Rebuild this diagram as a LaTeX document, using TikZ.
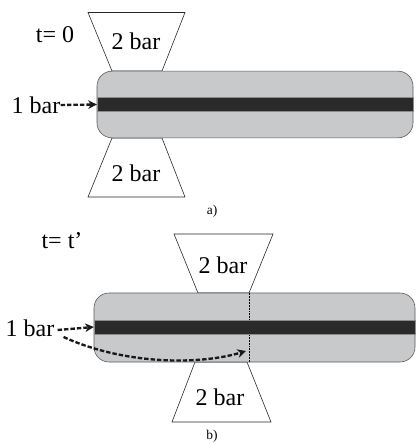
\documentclass[tikz,border=0pt]{standalone}
\usepackage{fontspec}
\setmainfont{Liberation Serif}
\usetikzlibrary{arrows.meta}

\begin{document}
\begin{tikzpicture}[
  x=0.3mm, y=-0.3mm,
  >={Stealth[length=2.6mm, width=2.6mm]},
  tube/.style={draw=black!65, line width=0.5pt, fill=tubegray, rounded corners=0.45cm, inner sep=0pt},
  band/.style={draw=black!45, line width=0.3pt, fill=banddark, minimum height=0.43cm, inner sep=0pt},
  reservoir/.style={draw=black!85, line width=0.5pt, fill=white},
  label/.style={font=\fontsize{20.5}{23}\selectfont, inner sep=0pt},
  sublabel/.style={font=\fontsize{11.5}{13}\selectfont, inner sep=0pt},
  flow/.style={->, line width=2pt, dash pattern=on 3.8pt off 1.7pt, black!90}
]
\definecolor{tubegray}{HTML}{C8C9CB}
\definecolor{banddark}{HTML}{2B2A2B}

\useasboundingbox (0,0) rectangle (415,444);

% --- Panel a) ---
\draw[reservoir] (88,12.5) -- (185,12.5) -- (162,71) -- (112,71) -- cycle;
\draw[reservoir] (112,138) -- (162,138) -- (185,197) -- (88,197) -- cycle;
\node[tube, minimum width=9.48cm, minimum height=2cm] (tubeA) at (255,104.5) {};
\node[band, minimum width=9.48cm] (bandA) at (255,104.5) {};
\node[label] (topA) at (136,41) {2 bar};
\node[label] (botA) at (136,173) {2 bar};
\node[label] (timeA) at (55,35) {t= 0};
\node[label] (oneA) at (36,105) {1 bar};
\node[sublabel] (capA) at (212,211) {a)};
\draw[flow] (oneA.east) -- (bandA.west);

% --- Panel b) ---
\draw[reservoir] (174,234) -- (273,234) -- (249,293) -- (198,293) -- cycle;
\draw[reservoir] (195,362) -- (247,362) -- (271,422) -- (172,422) -- cycle;
\node[tube, minimum width=9.63cm, minimum height=2.07cm] (tubeB) at (254.5,327.5) {};
\draw[black, line width=0.3pt, densely dotted] (tubeB.north -| 249,0) -- (tubeB.south -| 249,0);
\node[band, minimum width=9.63cm] (bandB) at (254.5,327) {};
\node[label] (topB) at (223,265) {2 bar};
\node[label] (botB) at (220,397) {2 bar};
\node[label] (timeB) at (62,241) {t= t'};
\node[label] (oneB) at (30,328) {1 bar};
\node[sublabel] (capB) at (212,436) {b)};
\coordinate (frontB) at (246,351);
\draw[flow] (oneB.east) ++(3,2) -- (bandB.west);
\draw[flow] (oneB.east) ++(9,9) .. controls (125,365) and (200,365) .. (frontB);

\end{tikzpicture}
\end{document}
